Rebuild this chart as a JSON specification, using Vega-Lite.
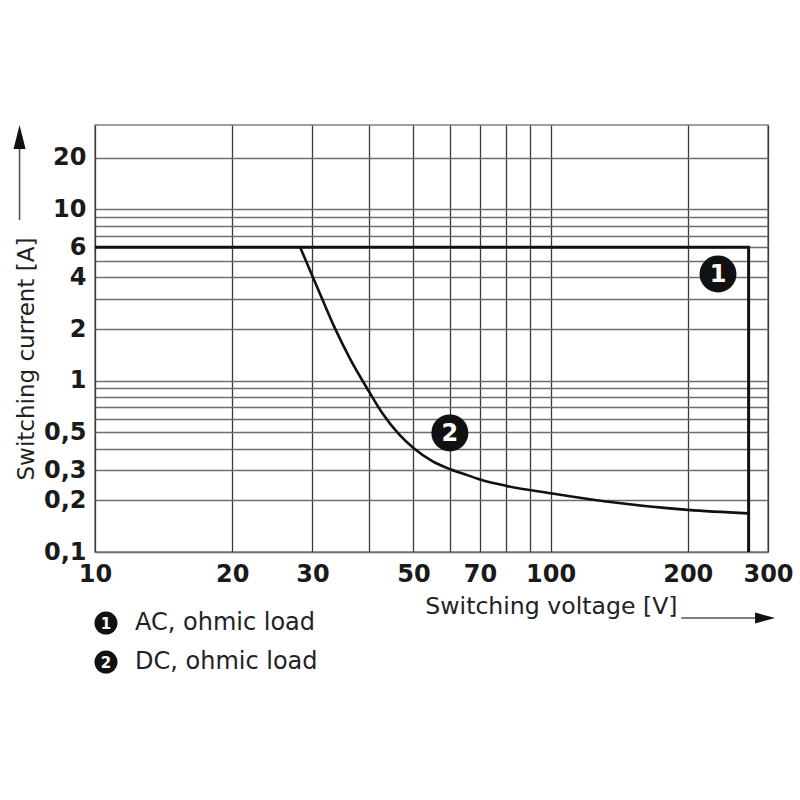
{
  "$schema": "https://vega.github.io/schema/vega-lite/v6.json",
  "width": 673,
  "height": 427,
  "autosize": {"type": "none"},
  "padding": {"left": 95, "top": 125, "right": 32, "bottom": 248},
  "background": "white",
  "config": {
    "view": {"stroke": "#808080", "strokeWidth": 1.5},
    "font": "DejaVu Sans"
  },
  "datasets": {
    "curves": [
      {"series": "AC", "ord": 1, "v": 10, "i": 6},
      {"series": "AC", "ord": 2, "v": 272, "i": 6},
      {"series": "AC", "ord": 3, "v": 272, "i": 0.1},
      {"series": "DC", "ord": 1, "v": 28.2, "i": 6},
      {"series": "DC", "ord": 2, "v": 30, "i": 4.08},
      {"series": "DC", "ord": 3, "v": 31.7, "i": 2.89},
      {"series": "DC", "ord": 4, "v": 33.65, "i": 2.01},
      {"series": "DC", "ord": 5, "v": 36.3, "i": 1.34},
      {"series": "DC", "ord": 6, "v": 40, "i": 0.858},
      {"series": "DC", "ord": 7, "v": 42.7, "i": 0.647},
      {"series": "DC", "ord": 8, "v": 46.5, "i": 0.485},
      {"series": "DC", "ord": 9, "v": 50, "i": 0.404},
      {"series": "DC", "ord": 10, "v": 55.1, "i": 0.3375},
      {"series": "DC", "ord": 11, "v": 60, "i": 0.305},
      {"series": "DC", "ord": 12, "v": 64.1, "i": 0.287},
      {"series": "DC", "ord": 13, "v": 70, "i": 0.265},
      {"series": "DC", "ord": 14, "v": 80, "i": 0.243},
      {"series": "DC", "ord": 15, "v": 100, "i": 0.22},
      {"series": "DC", "ord": 16, "v": 132.4, "i": 0.197},
      {"series": "DC", "ord": 17, "v": 200, "i": 0.176},
      {"series": "DC", "ord": 18, "v": 272, "i": 0.168}
    ],
    "markers": [
      {"n": "1", "v": 233, "i": 4.19},
      {"n": "2", "v": 60.1, "i": 0.495}
    ],
    "legend": [
      {"n": "1", "t": "AC, ohmic load", "v": 10.57, "tv": 12.24, "i": 0.0385},
      {"n": "2", "t": "DC, ohmic load", "v": 10.57, "tv": 12.24, "i": 0.0228}
    ],
    "shafts": [
      {"v": 6.83, "v2": 6.83, "i": 8.65, "i2": 22.5},
      {"v": 193.5, "v2": 283.8, "i": 0.0412, "i2": 0.0412}
    ],
    "heads": [
      {"dir": "up", "v": 6.83, "i": 26.4},
      {"dir": "right", "v": 295.6, "i": 0.0412}
    ]
  },
  "encoding": {
    "x": {
      "field": "v",
      "type": "quantitative",
      "scale": {"type": "log", "domain": [10, 300], "nice": false, "zero": false},
      "axis": {
        "values": [10, 20, 30, 40, 50, 60, 70, 80, 90, 100, 200, 300],
        "format": "~g",
        "labelExpr": "indexof([10,20,30,50,70,100,200,300], datum.value) >= 0 ? datum.label : ''",
        "grid": true,
        "gridColor": "#3a3a3a",
        "gridWidth": 1.3,
        "ticks": false,
        "domain": false,
        "labelFlush": false,
        "labelOverlap": false,
        "labelFont": "DejaVu Sans",
        "labelFontWeight": "bold",
        "labelFontSize": 24,
        "labelColor": "#1a1a1a",
        "labelPadding": 10,
        "title": "Switching voltage [V]",
        "titleFont": "DejaVu Sans",
        "titleFontWeight": "normal",
        "titleFontSize": 23.6,
        "titleColor": "#222222",
        "titleX": 582,
        "titleY": 61,
        "titleAlign": "right",
        "titleBaseline": "alphabetic"
      }
    },
    "y": {
      "field": "i",
      "type": "quantitative",
      "scale": {"type": "log", "domain": [0.1, 31], "nice": false, "zero": false},
      "axis": {
        "values": [0.1, 0.2, 0.3, 0.4, 0.5, 0.6, 0.7, 0.8, 0.9, 1, 2, 3, 4, 5, 6, 7, 8, 9, 10, 20],
        "format": "~g",
        "labelExpr": "indexof([0.1,0.2,0.3,0.5,1,2,4,6,10,20], datum.value) >= 0 ? replace(datum.label, '.', ',') : ''",
        "grid": true,
        "gridColor": "#6e6e6e",
        "gridWidth": 1.5,
        "ticks": false,
        "domain": false,
        "labelFlush": false,
        "labelOverlap": false,
        "labelFont": "DejaVu Sans",
        "labelFontWeight": "bold",
        "labelFontSize": 24,
        "labelColor": "#1a1a1a",
        "labelPadding": 9,
        "title": "Switching current [A]",
        "titleFont": "DejaVu Sans",
        "titleFontWeight": "normal",
        "titleFontSize": 23,
        "titleColor": "#222222",
        "titleAngle": 270,
        "titleX": -62,
        "titleY": 355,
        "titleAlign": "left",
        "titleBaseline": "alphabetic"
      }
    }
  },
  "layer": [
    {
      "data": {"name": "curves"},
      "transform": [{"filter": "datum.series === 'AC'"}],
      "mark": {"type": "line", "color": "#111111", "strokeWidth": 3, "clip": false},
      "encoding": {"order": {"field": "ord", "type": "quantitative"}}
    },
    {
      "data": {"name": "curves"},
      "transform": [{"filter": "datum.series === 'DC'"}],
      "mark": {"type": "line", "color": "#111111", "strokeWidth": 2.6, "interpolate": "monotone", "clip": false},
      "encoding": {"order": {"field": "ord", "type": "quantitative"}}
    },
    {
      "data": {"name": "markers"},
      "mark": {"type": "point", "shape": "circle", "filled": true, "color": "#111111", "opacity": 1, "size": 1369},
      "encoding": {}
    },
    {
      "data": {"name": "markers"},
      "mark": {"type": "text", "color": "white", "font": "DejaVu Sans", "fontWeight": "bold", "fontSize": 24, "align": "center", "baseline": "middle", "dy": 1},
      "encoding": {"text": {"field": "n"}}
    },
    {
      "data": {"name": "legend"},
      "mark": {"type": "point", "shape": "circle", "filled": true, "color": "#111111", "opacity": 1, "size": 530, "clip": false},
      "encoding": {}
    },
    {
      "data": {"name": "legend"},
      "mark": {"type": "text", "color": "white", "font": "DejaVu Sans", "fontWeight": "bold", "fontSize": 15, "align": "center", "baseline": "middle", "dy": 1, "clip": false},
      "encoding": {"text": {"field": "n"}}
    },
    {
      "data": {"name": "legend"},
      "mark": {"type": "text", "color": "#222222", "font": "DejaVu Sans", "fontSize": 24, "align": "left", "baseline": "middle", "clip": false},
      "encoding": {"x": {"field": "tv", "type": "quantitative"}, "text": {"field": "t"}}
    },
    {
      "data": {"name": "shafts"},
      "mark": {"type": "rule", "color": "#555555", "strokeWidth": 1.6, "clip": false},
      "encoding": {"x2": {"field": "v2"}, "y2": {"field": "i2"}}
    },
    {
      "data": {"name": "heads"},
      "transform": [{"filter": "datum.dir === 'up'"}],
      "mark": {"type": "point", "shape": "M0,-1L0.5,1L-0.5,1Z", "filled": true, "color": "#111111", "opacity": 1, "size": 576, "clip": false},
      "encoding": {}
    },
    {
      "data": {"name": "heads"},
      "transform": [{"filter": "datum.dir === 'right'"}],
      "mark": {"type": "point", "shape": "M1,0L-1,-0.55L-1,0.55Z", "filled": true, "color": "#111111", "opacity": 1, "size": 400, "clip": false},
      "encoding": {}
    }
  ]
}
